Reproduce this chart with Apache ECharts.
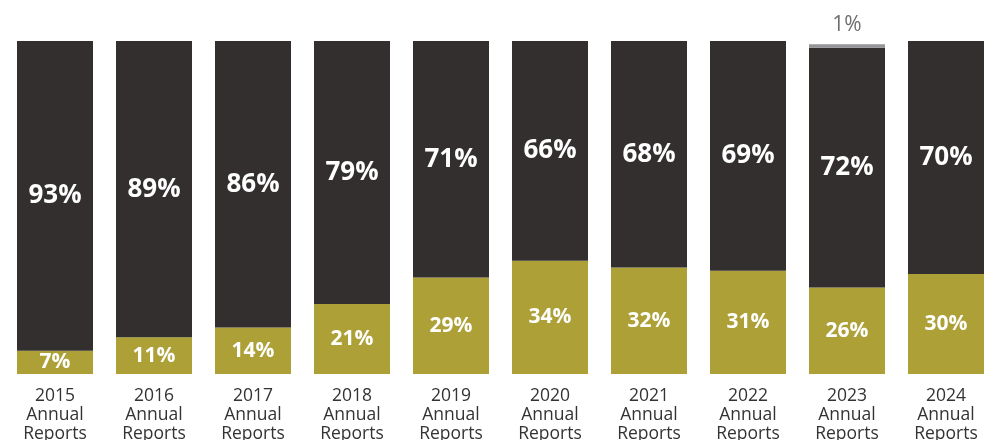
<!DOCTYPE html>
<html><head><meta charset="utf-8">
<script src="https://cdn.jsdelivr.net/npm/echarts@6/dist/echarts.min.js"></script>
<style>html,body{margin:0;padding:0;background:#fff}#c{width:1008px;height:440px}</style>
</head><body><div id="c"></div>
<script>
const categories = ['2015','2016','2017','2018','2019','2020','2021','2022','2023','2024'];
const olive = [7, 11, 14, 21, 29, 34, 32, 31, 26, 30];
const dark = [93, 89, 86, 79, 71, 66, 68, 69, 72, 70];
const grey = [null, null, null, null, null, null, null, null, 1, null];

const chart = echarts.init(document.getElementById('c'));
const font = '"Open Sans", "Noto Sans", sans-serif';
chart.setOption({
  animation: false,
  grid: {left: 5.5, right: 12.5, top: 41, bottom: 66, outerBoundsMode: 'none', containLabel: false},
  xAxis: {
    type: 'category', data: categories,
    axisLine: {show: false}, axisTick: {show: false},
    axisLabel: {
      formatter: v => v + '\nAnnual\nReports',
      color: '#333', fontSize: 17.5, lineHeight: 19, margin: 13, fontFamily: font
    }
  },
  yAxis: {type: 'value', min: 0, max: 100, show: false, splitLine: {show: false}},
  series: [
    {type: 'bar', stack: 's', data: olive, barWidth: 76,
     itemStyle: {color: '#ADA037'},
     label: {show: true, position: 'inside', formatter: '{c}%', color: '#fff', fontSize: 21, fontWeight: 'bold', fontFamily: font}},
    {type: 'bar', stack: 's', data: dark, barWidth: 76,
     itemStyle: {color: '#332F2E'},
     label: {show: true, position: 'inside', formatter: '{c}%', color: '#fff', fontSize: 26, fontWeight: 'bold', fontFamily: font}},
    {type: 'bar', stack: 's', data: grey, barWidth: 76,
     itemStyle: {color: '#939598'},
     label: {show: true, position: 'top', distance: 9, formatter: p => p.value == null ? '' : p.value + '%', color: '#6f6f6f', fontSize: 21, fontFamily: font}}
  ]
});
</script></body></html>
